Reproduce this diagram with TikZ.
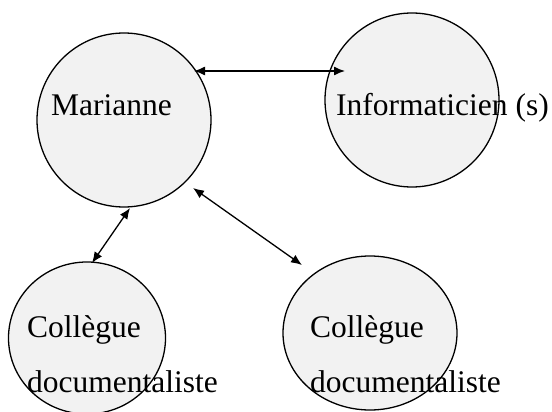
\documentclass[tikz,border=0pt]{standalone}
\usepackage{fontspec}
\setmainfont{Liberation Serif}
\usetikzlibrary{arrows.meta,shapes.geometric}
\tikzset{
  bubble/.style={ellipse, draw=black, line width=1.3pt, fill=gray!10, inner sep=0pt},
  lbl/.style={anchor=base west, inner sep=0pt, font=\fontsize{31.5}{36}\selectfont},
  link/.style={line width=1.3pt, {Latex[length=11pt,width=9pt]}-{Latex[length=11pt,width=9pt]}}
}
\begin{document}
\begin{tikzpicture}[x=1pt,y=-1pt]
\useasboundingbox (0,0) rectangle (552,412);
\fill[white] (0,0) rectangle (552,412);
% bubbles
\node[bubble, minimum width=174pt, minimum height=174pt] (mar) at (124,120) {};
\node[bubble, minimum width=174pt, minimum height=174pt] (inf) at (412,100) {};
\node[bubble, minimum width=157pt, minimum height=152pt] (col1) at (87,338) {};
\node[bubble, minimum width=174pt, minimum height=154pt] (col2) at (370,333) {};
% labels
\node[lbl] (tmar) at (51,116) {Marianne};
\node[lbl] (tinf) at (336,116) {Informaticien (s)};
\node[lbl] (tc1a) at (27,337) {Collègue};
\node[lbl] (tc1b) at (27,392) {documentaliste};
\node[lbl] (tc2a) at (310,337) {Collègue};
\node[lbl] (tc2b) at (310,392) {documentaliste};
% connector ends
\coordinate (a1) at (194,71);
\coordinate (a2) at (345,71);
\coordinate (b1) at (130,208);
\coordinate (b2) at (92,263);
\coordinate (c1) at (193,188);
\coordinate (c2) at (302,265);
\draw[link] (a1) -- (a2);
\draw[link] (b1) -- (b2);
\draw[link] (c1) -- (c2);
\end{tikzpicture}
\end{document}
